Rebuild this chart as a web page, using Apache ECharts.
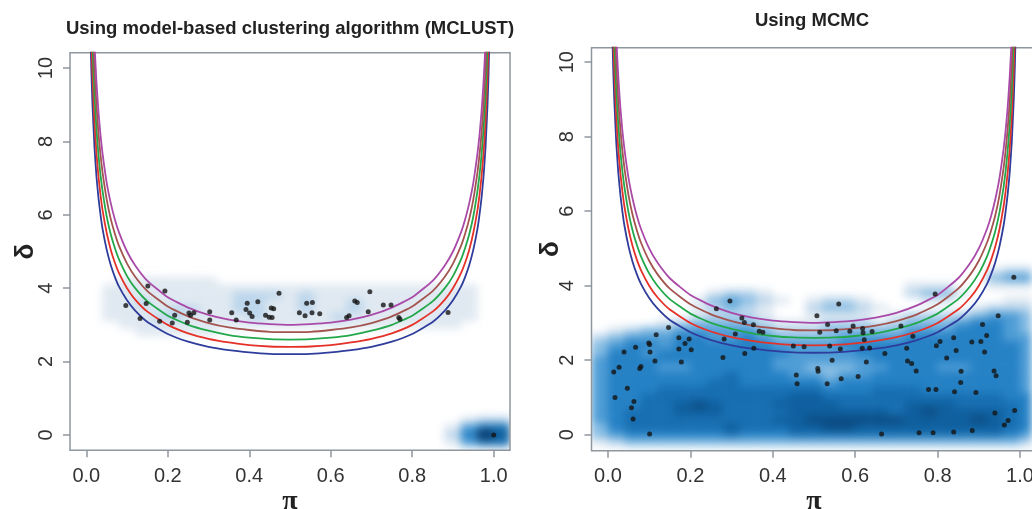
<!DOCTYPE html>
<html>
<head>
<meta charset="utf-8">
<script src="https://cdn.jsdelivr.net/npm/echarts@6/dist/echarts.min.js"></script>
<style>
  html, body { margin: 0; padding: 0; background: #fff; }
  #wrap { position: relative; width: 1032px; height: 509px; overflow: hidden; }
  .layer { position: absolute; left: 0; top: 0; width: 1032px; height: 509px; }
  .dens { filter: blur(4px); }
</style>
</head>
<body>
<div id="wrap">
  <div id="densL" class="layer dens"></div>
  <div id="densR" class="layer dens"></div>
  <div id="main" class="layer"></div>
</div>
<script>
// pi values where the boundary curves were read
const piGrid = [0.01, 0.0125, 0.015, 0.02, 0.025, 0.03, 0.035, 0.04, 0.05, 0.06, 0.07, 0.08, 0.1, 0.12,
  0.15, 0.2, 0.25, 0.3, 0.35, 0.4, 0.45, 0.5,
  0.55, 0.6, 0.65, 0.7, 0.75, 0.8, 0.85, 0.88, 0.9, 0.92, 0.93, 0.94, 0.95, 0.96, 0.965, 0.97, 0.975,
  0.98, 0.985, 0.9875, 0.99];
const blueCurve = [11.06, 9.90, 9.05, 7.86, 7.04, 6.45, 5.99, 5.61, 5.05, 4.63, 4.31, 4.05, 3.67, 3.39,
  3.08, 2.75, 2.54, 2.40, 2.31, 2.25, 2.21, 2.20,
  2.21, 2.25, 2.31, 2.40, 2.54, 2.75, 3.08, 3.39, 3.67, 4.05, 4.31, 4.63, 5.05, 5.61, 5.99, 6.45, 7.04,
  7.86, 9.05, 9.90, 11.06];
const redCurve = [12.06, 10.80, 9.87, 8.57, 7.68, 7.03, 6.53, 6.12, 5.51, 5.05, 4.70, 4.42, 4.00, 3.69,
  3.36, 3.00, 2.77, 2.62, 2.52, 2.45, 2.41, 2.40,
  2.41, 2.45, 2.52, 2.62, 2.77, 3.00, 3.36, 3.69, 4.00, 4.42, 4.70, 5.05, 5.51, 6.12, 6.53, 7.03, 7.68,
  8.57, 9.87, 10.80, 12.06];
const greenCurve = [13.07, 11.70, 10.69, 9.28, 8.33, 7.62, 7.07, 6.64, 5.96, 5.47, 5.10, 4.79, 4.33, 4.00,
  3.64, 3.25, 3.00, 2.84, 2.72, 2.65, 2.61, 2.60,
  2.61, 2.65, 2.72, 2.84, 3.00, 3.25, 3.64, 4.00, 4.33, 4.79, 5.10, 5.47, 5.96, 6.64, 7.07, 7.62, 8.33,
  9.28, 10.69, 11.70, 13.07];
const brownCurve = [14.07, 12.60, 11.52, 10.00, 8.97, 8.21, 7.62, 7.15, 6.42, 5.89, 5.49, 5.16, 4.67, 4.31,
  3.92, 3.50, 3.23, 3.05, 2.93, 2.86, 2.81, 2.80,
  2.81, 2.86, 2.93, 3.05, 3.23, 3.50, 3.92, 4.31, 4.67, 5.16, 5.49, 5.89, 6.42, 7.15, 7.62, 8.21, 8.97,
  10.00, 11.52, 12.60, 14.07];
const purpleCurve = [15.08, 13.50, 12.34, 10.71, 9.61, 8.79, 8.16, 7.66, 6.88, 6.32, 5.88, 5.53, 5.00, 4.62,
  4.20, 3.75, 3.47, 3.27, 3.14, 3.06, 3.02, 3.00,
  3.02, 3.06, 3.14, 3.27, 3.47, 3.75, 4.20, 4.62, 5.00, 5.53, 5.88, 6.32, 6.88, 7.66, 8.16, 8.79, 9.61,
  10.71, 12.34, 13.50, 15.08];
const curveColors = ['#2e3d9c', '#e53228', '#22a84a', '#a3544f', '#a94aa8'];

const xTicks = [0, 0.2, 0.4, 0.6, 0.8, 1.0];
const yTicks = [0, 2, 4, 6, 8, 10];

const mclustPoints = [[0.097,3.53],[0.132,3.17],[0.151,4.06],[0.147,3.58],[0.193,3.92],[0.180,3.10],[0.211,3.05],
  [0.217,3.26],[0.248,3.07],[0.252,3.32],[0.256,3.26],[0.264,3.33],[0.303,3.36],[0.303,3.13],[0.357,3.33],
  [0.368,3.13],[0.392,3.42],[0.395,3.59],[0.401,3.32],[0.407,3.23],[0.421,3.63],[0.440,3.26],[0.454,3.46],
  [0.460,3.44],[0.449,3.21],[0.456,3.20],[0.473,3.86],[0.523,3.33],[0.537,3.25],[0.541,3.59],[0.555,3.61],
  [0.554,3.33],[0.573,3.30],[0.639,3.20],[0.645,3.25],[0.659,3.65],[0.665,3.61],[0.696,3.90],[0.692,3.36],
  [0.729,3.54],[0.748,3.54],[0.767,3.20],[0.770,3.15],[0.888,3.34],[1.0,0.0]];

const mcmcPoints = [[0.985,4.23],[0.794,3.78],[0.296,3.59],[0.560,3.51],[0.263,3.38],[0.947,3.19],[0.507,3.19],
  [0.325,3.13],[0.331,3.01],[0.353,2.95],[0.533,2.96],[0.909,2.96],[0.147,2.88],[0.711,2.92],[0.595,2.92],
  [0.618,2.85],[0.367,2.78],[0.376,2.75],[0.514,2.75],[0.554,2.79],[0.587,2.78],[0.619,2.74],[0.641,2.77],
  [0.309,2.70],[0.117,2.68],[0.919,2.66],[0.740,2.64],[0.172,2.60],[0.197,2.57],[0.282,2.57],[0.839,2.60],
  [0.622,2.55],[0.806,2.50],[0.797,2.39],[0.883,2.49],[0.905,2.50],[0.099,2.46],[0.101,2.42],[0.187,2.45],
  [0.067,2.35],[0.039,2.22],[0.102,2.22],[0.172,2.30],[0.202,2.28],[0.354,2.32],[0.450,2.38],[0.476,2.36],
  [0.538,2.38],[0.564,2.30],[0.617,2.32],[0.635,2.33],[0.725,2.32],[0.845,2.26],[0.914,2.22],[0.332,2.18],
  [0.672,2.18],[0.279,2.07],[0.822,2.06],[0.114,1.98],[0.178,1.95],[0.544,2.00],[0.727,1.98],[0.627,1.95],
  [0.737,1.91],[0.027,1.81],[0.080,1.83],[0.077,1.78],[0.014,1.68],[0.509,1.78],[0.510,1.70],[0.748,1.71],
  [0.857,1.70],[0.937,1.71],[0.942,1.58],[0.457,1.60],[0.607,1.56],[0.566,1.50],[0.459,1.37],[0.532,1.37],
  [0.856,1.40],[0.047,1.25],[0.778,1.21],[0.796,1.21],[0.841,1.15],[0.893,1.13],[0.017,1.00],[0.063,0.89],
  [0.057,0.72],[0.061,0.42],[0.939,0.58],[0.987,0.65],[0.971,0.38],[0.962,0.26],[0.101,0.02],[0.664,0.02],
  [0.755,0.05],[0.789,0.05],[0.839,0.07],[0.884,0.11]];

// smoothed density, read as levels 0-9 on a coarse grid
const densPi = [-0.02, 0.02, 0.06, 0.10, 0.14, 0.18, 0.22, 0.26, 0.30, 0.34, 0.38, 0.42, 0.46, 0.50,
  0.54, 0.58, 0.62, 0.66, 0.70, 0.74, 0.78, 0.82, 0.86, 0.90, 0.94, 0.98, 1.02];
const densDelta = [4.4, 4.2, 4.0, 3.8, 3.6, 3.4, 3.2, 3.0, 2.8, 2.6, 2.4, 2.2, 2.0, 1.8, 1.6, 1.4,
  1.2, 1.0, 0.8, 0.6, 0.4, 0.2, 0.0, -0.2];
const mclustDensity = [
  "",
  "000111111",
  "0011111111111111111111111",
  "0011111111222121111111111",
  "0011211111221121121111111",
  "0011112211221121121111111",
  "0011122111121111211111111",
  "000111111111111111111111",
  "000011111",
  "", "", "", "", "", "", "", "", "", "", "",
  "000000000000000000000000122",
  "000000000000000000000001466",
  "000000000000000000000002597",
  "000000000000000000000001466"
];
const mcmcDensity = [
  "000000000000000000000000122",
  "000000000000000000000000344",
  "000000000000000000011100111",
  "000000012210000000023310000",
  "000000134321012210001100011",
  "000000123210023321000001222",
  "000000122210011110122223443",
  "000012333321112221233345543",
  "012334444432223333344455543",
  "234445544543333444455555544",
  "345545555554444555555555554",
  "355455555555444455555555554",
  "455555555554444445555555554",
  "455544555554433344555445554",
  "455555556555443445555555554",
  "455555566555554555555555554",
  "455566666666665556665555554",
  "455666666666776666666666655",
  "455667876667777666677766665",
  "456667776666777777678777765",
  "456666666667788888877778765",
  "356666667666778877777777765",
  "345555556555666666666666654",
  "123333333333333333333333332"
];
const densColors = ['#e0e9f1', '#bcd6ec', '#86bce3', '#4f9dd6', '#2581c5', '#176fb2', '#0e5f9e', '#0b4c84', '#0a2f58'];

const AXIS = '#8e969e';
const X_MIN = -0.04, X_MAX = 1.04;
const panels = [
  { title: 'Using model-based clustering algorithm (MCLUST)', titleTop: 19,
    left: 70, top: 52.7, width: 440, height: 397.6, yMin: -0.42, yMax: 10.42,
    points: mclustPoints, density: mclustDensity, el: 'densL', deltaGap: 31 },
  { title: 'Using MCMC', titleTop: 11,
    left: 591.5, top: 47.7, width: 445, height: 403, yMin: -0.43, yMax: 10.39,
    points: mcmcPoints, density: mcmcDensity, el: 'densR', deltaGap: 28 }
];

function drawDensity(p) {
  const el = document.getElementById(p.el);
  const right = Math.max(0, 1032 - p.left - p.width);
  const bottom = 509 - p.top - p.height;
  el.style.clipPath = 'inset(' + p.top + 'px ' + right + 'px ' + bottom + 'px ' + p.left + 'px)';
  const sy = p.height / (p.yMax - p.yMin);
  const step = densDelta[0] - densDelta[1];
  const topEdge = densDelta[0] + step / 2;
  const botEdge = densDelta[densDelta.length - 1] - step / 2;
  const data = [];
  p.density.forEach((row, r) => {
    for (let c = 0; c < densPi.length; c++) {
      const v = +(row[c] || 0);
      if (v > 0) data.push([c, densDelta.length - 1 - r, v]);
    }
  });
  const chart = echarts.init(el);
  chart.setOption({
    animation: false,
    grid: { left: p.left, top: p.top + (p.yMax - topEdge) * sy, width: p.width,
      height: (topEdge - botEdge) * sy, outerBoundsMode: 'none' },
    xAxis: { type: 'category', data: densPi.map(String), show: false },
    yAxis: { type: 'category', data: densDelta.slice().reverse().map(String), show: false },
    visualMap: { show: false, min: 1, max: 9, dimension: 2, inRange: { color: densColors } },
    series: [{ type: 'heatmap', data: data, silent: true, itemStyle: { borderWidth: 0 } }]
  });
}
panels.forEach(drawDensity);

const chart = echarts.init(document.getElementById('main'));
const curves = [blueCurve, redCurve, greenCurve, brownCurve, purpleCurve];
const series = [];
panels.forEach((p, i) => {
  curves.forEach((c, k) => {
    series.push({
      type: 'line', xAxisIndex: i, yAxisIndex: i, silent: true, z: 3,
      data: piGrid.map((x, j) => [x, c[j]]),
      showSymbol: false, smooth: 0.15,
      lineStyle: { color: curveColors[k], width: 1.8 }
    });
  });
  series.push({
    type: 'scatter', xAxisIndex: i, yAxisIndex: i, silent: true, z: 4,
    data: p.points, symbolSize: 5, itemStyle: { color: '#141414' }
  });
});

chart.setOption({
  animation: false,
  title: panels.map(p => ({
    text: p.title, left: p.left + p.width / 2 - (p.left > 500 ? 2 : 0), top: p.titleTop,
    textAlign: 'center', padding: 0,
    textStyle: { fontFamily: 'Liberation Sans', fontWeight: 'bold', fontSize: 18.5, color: '#222' }
  })),
  grid: panels.map(p => ({
    left: p.left, top: p.top, width: p.width, height: p.height, outerBoundsMode: 'none',
    show: true, borderColor: AXIS, borderWidth: 1.5, backgroundColor: 'transparent'
  })),
  xAxis: panels.map((p, i) => ({
    type: 'value', gridIndex: i, min: X_MIN, max: X_MAX,
    name: 'π', nameLocation: 'middle', nameGap: 37, nameMoveOverlap: false,
    nameTextStyle: { fontFamily: 'Liberation Serif', fontWeight: 'bold', fontSize: 28, color: '#222' },
    axisLine: { show: false, onZero: false }, splitLine: { show: false },
    axisTick: { show: true, length: 7, customValues: xTicks, lineStyle: { color: AXIS, width: 1.5 } },
    axisLabel: { customValues: xTicks, margin: 16, formatter: v => v.toFixed(1),
      fontFamily: 'Liberation Sans', fontSize: 20, color: '#333' }
  })),
  yAxis: panels.map((p, i) => ({
    type: 'value', gridIndex: i, min: p.yMin, max: p.yMax,
    name: 'δ', nameLocation: 'middle', nameGap: p.deltaGap, nameMoveOverlap: false,
    nameTextStyle: { fontFamily: 'Liberation Sans', fontWeight: 'bold', fontSize: 26, color: '#222' },
    axisLine: { show: false, onZero: false }, splitLine: { show: false },
    axisTick: { show: true, length: 7, customValues: yTicks, lineStyle: { color: AXIS, width: 1.5 } },
    axisLabel: { customValues: yTicks, margin: 14, rotate: 90,
      fontFamily: 'Liberation Sans', fontSize: 20, color: '#333' }
  })),
  series: series
});
</script>
</body>
</html>
